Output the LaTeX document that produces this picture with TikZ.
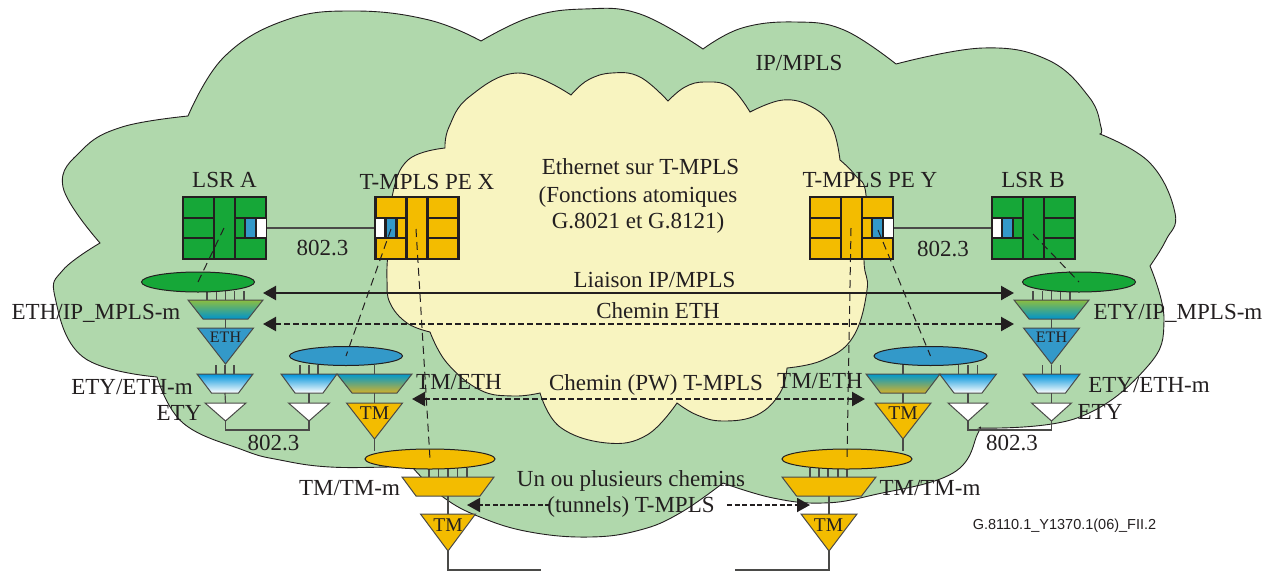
\documentclass[tikz,border=0pt]{standalone}
\usepackage{fontspec}
\setmainfont{Liberation Serif}
\newfontfamily\refsans{Liberation Sans}
\usetikzlibrary{arrows.meta,calc,shapes.geometric}
\definecolor{ink}{HTML}{231F20}
\definecolor{wire}{HTML}{4A4A48}
\definecolor{cloudgreen}{HTML}{B0D8AC}
\definecolor{cloudyellow}{HTML}{F8F4C0}
\definecolor{boxgreen}{HTML}{16A738}
\definecolor{boxorange}{HTML}{F3BC00}
\definecolor{portblue}{HTML}{3399C9}
\tikzset{
  lbl/.style={inner sep=0pt,text=ink,font=\fontsize{23}{27}\selectfont,text height=15.2pt,text depth=0pt,anchor=center,align=center},
  cloudline/.style={draw=ink,line width=0.9pt,line join=miter},
  wireline/.style={draw=wire,line width=1.2pt},
  shapeline/.style={draw=wire,line width=1pt,line join=miter},
  oval/.style={ellipse,inner sep=0pt,draw=ink,line width=1pt},
  dropline/.style={draw=ink,line width=1pt,dash pattern=on 8pt off 5pt},
  solidarrow/.style={draw=ink,line width=2.2pt,{Triangle[length=13pt,width=14pt]}-{Triangle[length=13pt,width=14pt]}},
  dasharrow/.style={draw=ink,line width=2.2pt,dash pattern=on 6pt off 3pt,{Triangle[length=13pt,width=14pt]}-{Triangle[length=13pt,width=14pt]}},
  thinarrow/.style={draw=ink,line width=1.8pt,dash pattern=on 5pt off 2.5pt,-{Triangle[length=13pt,width=14pt]}},
  gradipm/.style={top color=green!50!black!10!lime!0!white!0!ipmtop,middle color=ipmmid,bottom color=ipmbot},
  gradety/.style={top color=etytop,bottom color=white},
  gradtm/.style={top color=tmtop,middle color=tmmid,bottom color=tmbot},
  solidor/.style={fill=boxorange},
  solidblue/.style={fill=portblue},
  solidwhite/.style={fill=white},
}
\definecolor{ipmtop}{HTML}{8CBE40}
\definecolor{ipmmid}{HTML}{22A98A}
\definecolor{ipmbot}{HTML}{0093CB}
\definecolor{etytop}{HTML}{0093DA}
\definecolor{tmtop}{HTML}{0099CC}
\definecolor{tmmid}{HTML}{68A488}
\definecolor{tmbot}{HTML}{D2B22A}
% name, cx, ytop, ybot, half top width, half bottom width, style
\newcommand\trapz[7]{%
  \path[shapeline,#7] ({#2-#5},#3) -- ({#2+#5},#3) -- ({#2+#6},#4) -- ({#2-#6},#4) -- cycle;
  \coordinate (#1-t) at (#2,#3);
  \coordinate (#1-b) at (#2,#4);
}
% name, cx, ytop, yapex, half width, style
\newcommand\tripz[6]{%
  \path[shapeline,#6] ({#2-#5},#3) -- ({#2+#5},#3) -- (#2,#4) -- cycle;
  \coordinate (#1-t) at (#2,#3);
  \coordinate (#1-b) at (#2,#4);
}
% name, cx, direction of the port (1 right, -1 left), fill colour
\newcommand\rtrbox[4]{%
  \node[draw=ink,line width=2.2pt,fill=#4,minimum width=83pt,minimum height=62pt,inner sep=0pt] (#1) at (#2,228) {};
  \begin{scope}[shift={(#2,228)},xscale=#3]
    \fill[portblue] (21,-10) rectangle (31,10);
    \fill[white] (32,-10) rectangle (41,10);
    \draw[ink,line width=2.2pt] (-10.5,-31) -- (-10.5,31) (10.5,-31) -- (10.5,31)
      (-41.5,-10) -- (-10.5,-10) (-41.5,10) -- (-10.5,10)
      (10.5,-10) -- (41.5,-10) (10.5,10) -- (41.5,10)
      (20.5,-11) -- (20.5,11) (31.5,-11) -- (31.5,11);
  \end{scope}
}
% lower coordinate, offsets, height
\newcommand\tickset[3]{%
  \foreach \d in {#2} \draw[wireline] ($(#1)+(\d,0)$) -- ++(0,-#3);
}
\begin{document}
\begin{tikzpicture}[x=1pt,y=-1pt]
\useasboundingbox (0,0) rectangle (1279,571);
% outer cloud
\path[cloudline,fill=cloudgreen]
  plot[smooth,tension=.7] coordinates {(188,116)(224,57)(286,20)(355,11)(429,20)(481,41)}
  -- plot[smooth,tension=.7] coordinates {(481,41)(531,17)(584,9)(640,14)(703,49)}
  -- plot[smooth,tension=.7] coordinates {(703,49)(742,28)(795,22)(844,30)(896,64)}
  -- plot[smooth,tension=.7] coordinates {(896,64)(983,48)(1048,60)(1089,97)(1101,127)(1100,134)}
  -- plot[smooth,tension=.7] coordinates {(1100,134)(1150,163)(1175,213)(1166,240)(1150,266)}
  -- plot[smooth,tension=.7] coordinates {(1150,266)(1164,320)(1147,367)(1077,418)(979,428)}
  -- plot[smooth,tension=.7] coordinates {(979,428)(978,433)(953,473)(873,495)(823,503)(773,498)(723,483)}
  -- plot[smooth,tension=.7] coordinates {(723,483)(680,513)(640,530)(590,537)(530,532)(480,517)(443,497)(413,468)}
  -- plot[smooth,tension=.7] coordinates {(413,468)(397,467)(330,467)(280,460)(243,450)(183,423)(157,377)}
  -- plot[smooth,tension=.7] coordinates {(157,377)(83,357)(55,297)(63,270)(100,243)}
  -- plot[smooth,tension=.7] coordinates {(100,243)(63,187)(82,150)(122,127)(188,116)}
  -- cycle;
% inner cloud
\path[cloudline,fill=cloudyellow]
  plot[smooth,tension=.7] coordinates {(445,148)(449,127)(469,97)(518,73)(571,95)}
  -- plot[smooth,tension=.7] coordinates {(571,95)(588,80)(612,73)(640,77)(668,101)}
  -- plot[smooth,tension=.7] coordinates {(668,101)(685,87)(705,82)(730,87)(750,112)}
  -- plot[smooth,tension=.7] coordinates {(750,112)(783,100)(812,107)(832,127)(840,160)}
  -- plot[smooth,tension=.7] coordinates {(840,160)(855,175)(866,195)(864,260)(867,290)(853,337)(823,360)(787,368)}
  -- plot[smooth,tension=.7] coordinates {(787,368)(780,393)(757,415)(723,421)(697,415)(677,403)}
  -- plot[smooth,tension=.7] coordinates {(677,403)(647,435)(607,443)(560,427)(540,393)}
  -- plot[smooth,tension=.7] coordinates {(540,393)(513,396)(480,390)(447,363)(430,332)}
  -- plot[smooth,tension=.7] coordinates {(430,332)(407,323)(390,303)(387,280)(388,250)(392,197)(408,160)(445,148)}
  -- cycle;
% equipment boxes
\rtrbox{lsra}{224.5}{1}{boxgreen}
\rtrbox{pex}{417}{-1}{boxorange}
\rtrbox{pey}{851.5}{1}{boxorange}
\rtrbox{lsrb}{1033.5}{-1}{boxgreen}
\draw[wireline] (lsra.east) -- (pex.west);
\draw[wireline] (pey.east) -- (lsrb.west);
% left stack, LSR A
\trapz{ipa}{225.5}{300}{319}{37.5}{22.5}{gradipm}
\tripz{etha}{225.5}{328}{364}{28}{solidblue}
\trapz{etya}{225}{374}{393}{28}{13.5}{gradety}
\tripz{wa}{225.5}{403}{421}{20.5}{solidwhite}
% PE X
\trapz{etyx}{309}{374}{393}{28}{14}{gradety}
\tripz{wx}{309}{403}{421}{20.5}{solidwhite}
\trapz{tmex}{374.5}{374}{393}{37.5}{22.5}{gradtm}
\tripz{tmx}{374.5}{403}{439}{28}{solidor}
\trapz{ttx}{448}{477}{496}{46}{32}{solidor}
\tripz{tx}{448}{514}{551}{27.5}{solidor}
% PE Y
\trapz{tmey}{903}{374}{393}{37}{22.5}{gradtm}
\tripz{tmy}{903}{403}{439}{28}{solidor}
\trapz{etyy}{968}{374}{393}{28.5}{14}{gradety}
\tripz{wy}{968}{403}{421}{20}{solidwhite}
\trapz{tty}{829}{477}{496}{47}{32.5}{solidor}
\tripz{ty}{829}{514}{551}{28}{solidor}
% right stack, LSR B
\trapz{ipb}{1051.5}{300}{319}{37.5}{22.5}{gradipm}
\tripz{ethb}{1051.5}{328}{364}{28}{solidblue}
\trapz{etyb}{1051.5}{374}{393}{28.5}{14}{gradety}
\tripz{wb}{1051.5}{403}{421}{20}{solidwhite}
% ticks
\tickset{ipa-t}{-18.5,-9.25,0,9.25,18.5}{9}
\tickset{etya-t}{-9,0,9}{9}
\tickset{etyx-t}{-9,0,9}{9}
\tickset{tmex-t}{0}{9}
\tickset{ttx-t}{-19,-9.5,0,9.5,19}{9}
\tickset{tmey-t}{0}{9}
\tickset{etyy-t}{-9.5,0,9.5}{9}
\tickset{tty-t}{-19,-10,-1,9,18}{9}
\tickset{ipb-t}{-18.5,-9.25,0,9.25,18.5}{9}
\tickset{etyb-t}{-9,0,9}{9}
% stack connectors
\draw[wireline] (ipa-b) -- (etha-t);
\draw[wireline] (etya-b) -- (wa-t);
\draw[wireline] (etyx-b) -- (wx-t);
\draw[wireline] (tmex-b) -- (tmx-t);
\draw[wireline] (ttx-b) -- (tx-t);
\draw[wireline] (tmey-b) -- (tmy-t);
\draw[wireline] (etyy-b) -- (wy-t);
\draw[wireline] (tty-b) -- (ty-t);
\draw[wireline] (ipb-b) -- (ethb-t);
\draw[wireline] (etyb-b) -- (wb-t);
\draw[wireline] (wa-b) -- ++(0,9) -| (wx-b);
\draw[wireline] (wb-b) -- ++(0,9) -| (wy-b);
\draw[wireline] (tmx-b) -- ++(0,12);
\draw[wireline] (tmy-b) -- ++(0,12);
\coordinate (txend) at (541,570);
\coordinate (tyend) at (735,570);
\draw[wireline] (tx-b) |- (txend);
\draw[wireline] (ty-b) |- (tyend);
% ellipses
\node[oval,fill=boxgreen,minimum width=113pt,minimum height=20pt] (ela) at (198,282) {};
\node[oval,fill=boxgreen,minimum width=113pt,minimum height=20pt] (elb) at (1079,282) {};
\node[oval,fill=portblue,minimum width=113pt,minimum height=19pt] (elx) at (346,356) {};
\node[oval,fill=portblue,minimum width=113pt,minimum height=19pt] (ely) at (930.5,356) {};
\node[oval,fill=boxorange,minimum width=130pt,minimum height=20pt] (orx) at (430,459) {};
\node[oval,fill=boxorange,minimum width=130pt,minimum height=20pt] (ory) at (847,459) {};
% text
\node[lbl] (t1) at (799,63) {IP/MPLS};
\node[lbl] (t2) at (224.5,180) {LSR A};
\node[lbl] (t3) at (427,182) {T-MPLS PE X};
\node[lbl] (t4) at (870,180) {T-MPLS PE Y};
\node[lbl] (t5) at (1033,180) {LSR B};
\node[lbl] (t6) at (640.5,167) {Ethernet sur T-MPLS};
\node[lbl] (t7) at (638,195) {(Fonctions atomiques};
\node[lbl] (t8) at (638,221) {G.8021 et G.8121)};
\node[lbl] (t9) at (322.5,248) {802.3};
\node[lbl] (t10) at (943,249) {802.3};
\node[lbl] (t11) at (96,312) {ETH/IP\_MPLS-m};
\node[lbl] (t12) at (1178,312) {ETY/IP\_MPLS-m};
\node[lbl] (t13) at (132,387) {ETY/ETH-m};
\node[lbl] (t14) at (1149,385) {ETY/ETH-m};
\node[lbl] (t15) at (179,413) {ETY};
\node[lbl] (t16) at (1100,412) {ETY};
\node[lbl] (t17) at (273.5,443) {802.3};
\node[lbl] (t18) at (1012,443) {802.3};
\node[lbl] (t19) at (459,382) {TM/ETH};
\node[lbl] (t20) at (820,381) {TM/ETH};
\node[lbl] (t21) at (656,383) {Chemin (PW) T-MPLS};
\node[lbl] (t22) at (654.5,280) {Liaison IP/MPLS};
\node[lbl] (t23) at (658,311) {Chemin ETH};
\node[lbl] (t24) at (631,479) {Un ou plusieurs chemins};
\node[lbl] (t25) at (631,505) {(tunnels) T-MPLS};
\node[lbl] (t26) at (349.5,488) {TM/TM-m};
\node[lbl] (t27) at (930,488) {TM/TM-m};
\node[lbl,font=\fontsize{16}{19}\selectfont,text height=10.6pt] (t28) at (225.5,337) {ETH};
\node[lbl,font=\fontsize{16}{19}\selectfont,text height=10.6pt] (t29) at (1051.5,337) {ETH};
\node[lbl,font=\fontsize{19.5}{23}\selectfont,text height=12.9pt] (t30) at (374.5,413) {TM};
\node[lbl,font=\fontsize{19.5}{23}\selectfont,text height=12.9pt] (t31) at (903,413) {TM};
\node[lbl,font=\fontsize{19.5}{23}\selectfont,text height=12.9pt] (t32) at (448,525) {TM};
\node[lbl,font=\fontsize{19.5}{23}\selectfont,text height=12.9pt] (t33) at (828.5,525) {TM};
\node[lbl,font=\refsans\fontsize{14.5}{17}\selectfont,text height=10.4pt] (t34) at (1064.5,524) {G.8110.1\_Y1370.1(06)\_FII.2};
% dashed drops
\coordinate (da) at (224,228);
\coordinate (dx1) at (391,229);
\coordinate (dx2) at (416,229);
\coordinate (dy1) at (851,228);
\coordinate (dy2) at (878,230);
\coordinate (db) at (1033,234);
\draw[dropline] (da) -- (ela.center);
\draw[dropline] (dx1) -- (elx.center);
\draw[dropline] (dx2) -- (orx.center);
\draw[dropline] (dy1) -- (ory.center);
\draw[dropline] (dy2) -- (ely.center);
\draw[dropline] (db) -- (elb.center);
% arrows
\coordinate (a1l) at (263,293);
\coordinate (a1r) at (1014,293);
\coordinate (a2l) at (263,324);
\coordinate (a2r) at (1014,324);
\coordinate (a3l) at (412,399);
\coordinate (a3r) at (865,399);
\coordinate (a4l) at (467,505);
\coordinate (a4m) at (550,505);
\coordinate (a5m) at (727,505);
\coordinate (a5r) at (810,505);
\draw[solidarrow] (a1l) -- (a1r);
\draw[dasharrow] (a2l) -- (a2r);
\draw[dasharrow] (a3l) -- (a3r);
\draw[thinarrow] (a4m) -- (a4l);
\draw[thinarrow] (a5m) -- (a5r);
\end{tikzpicture}
\end{document}
